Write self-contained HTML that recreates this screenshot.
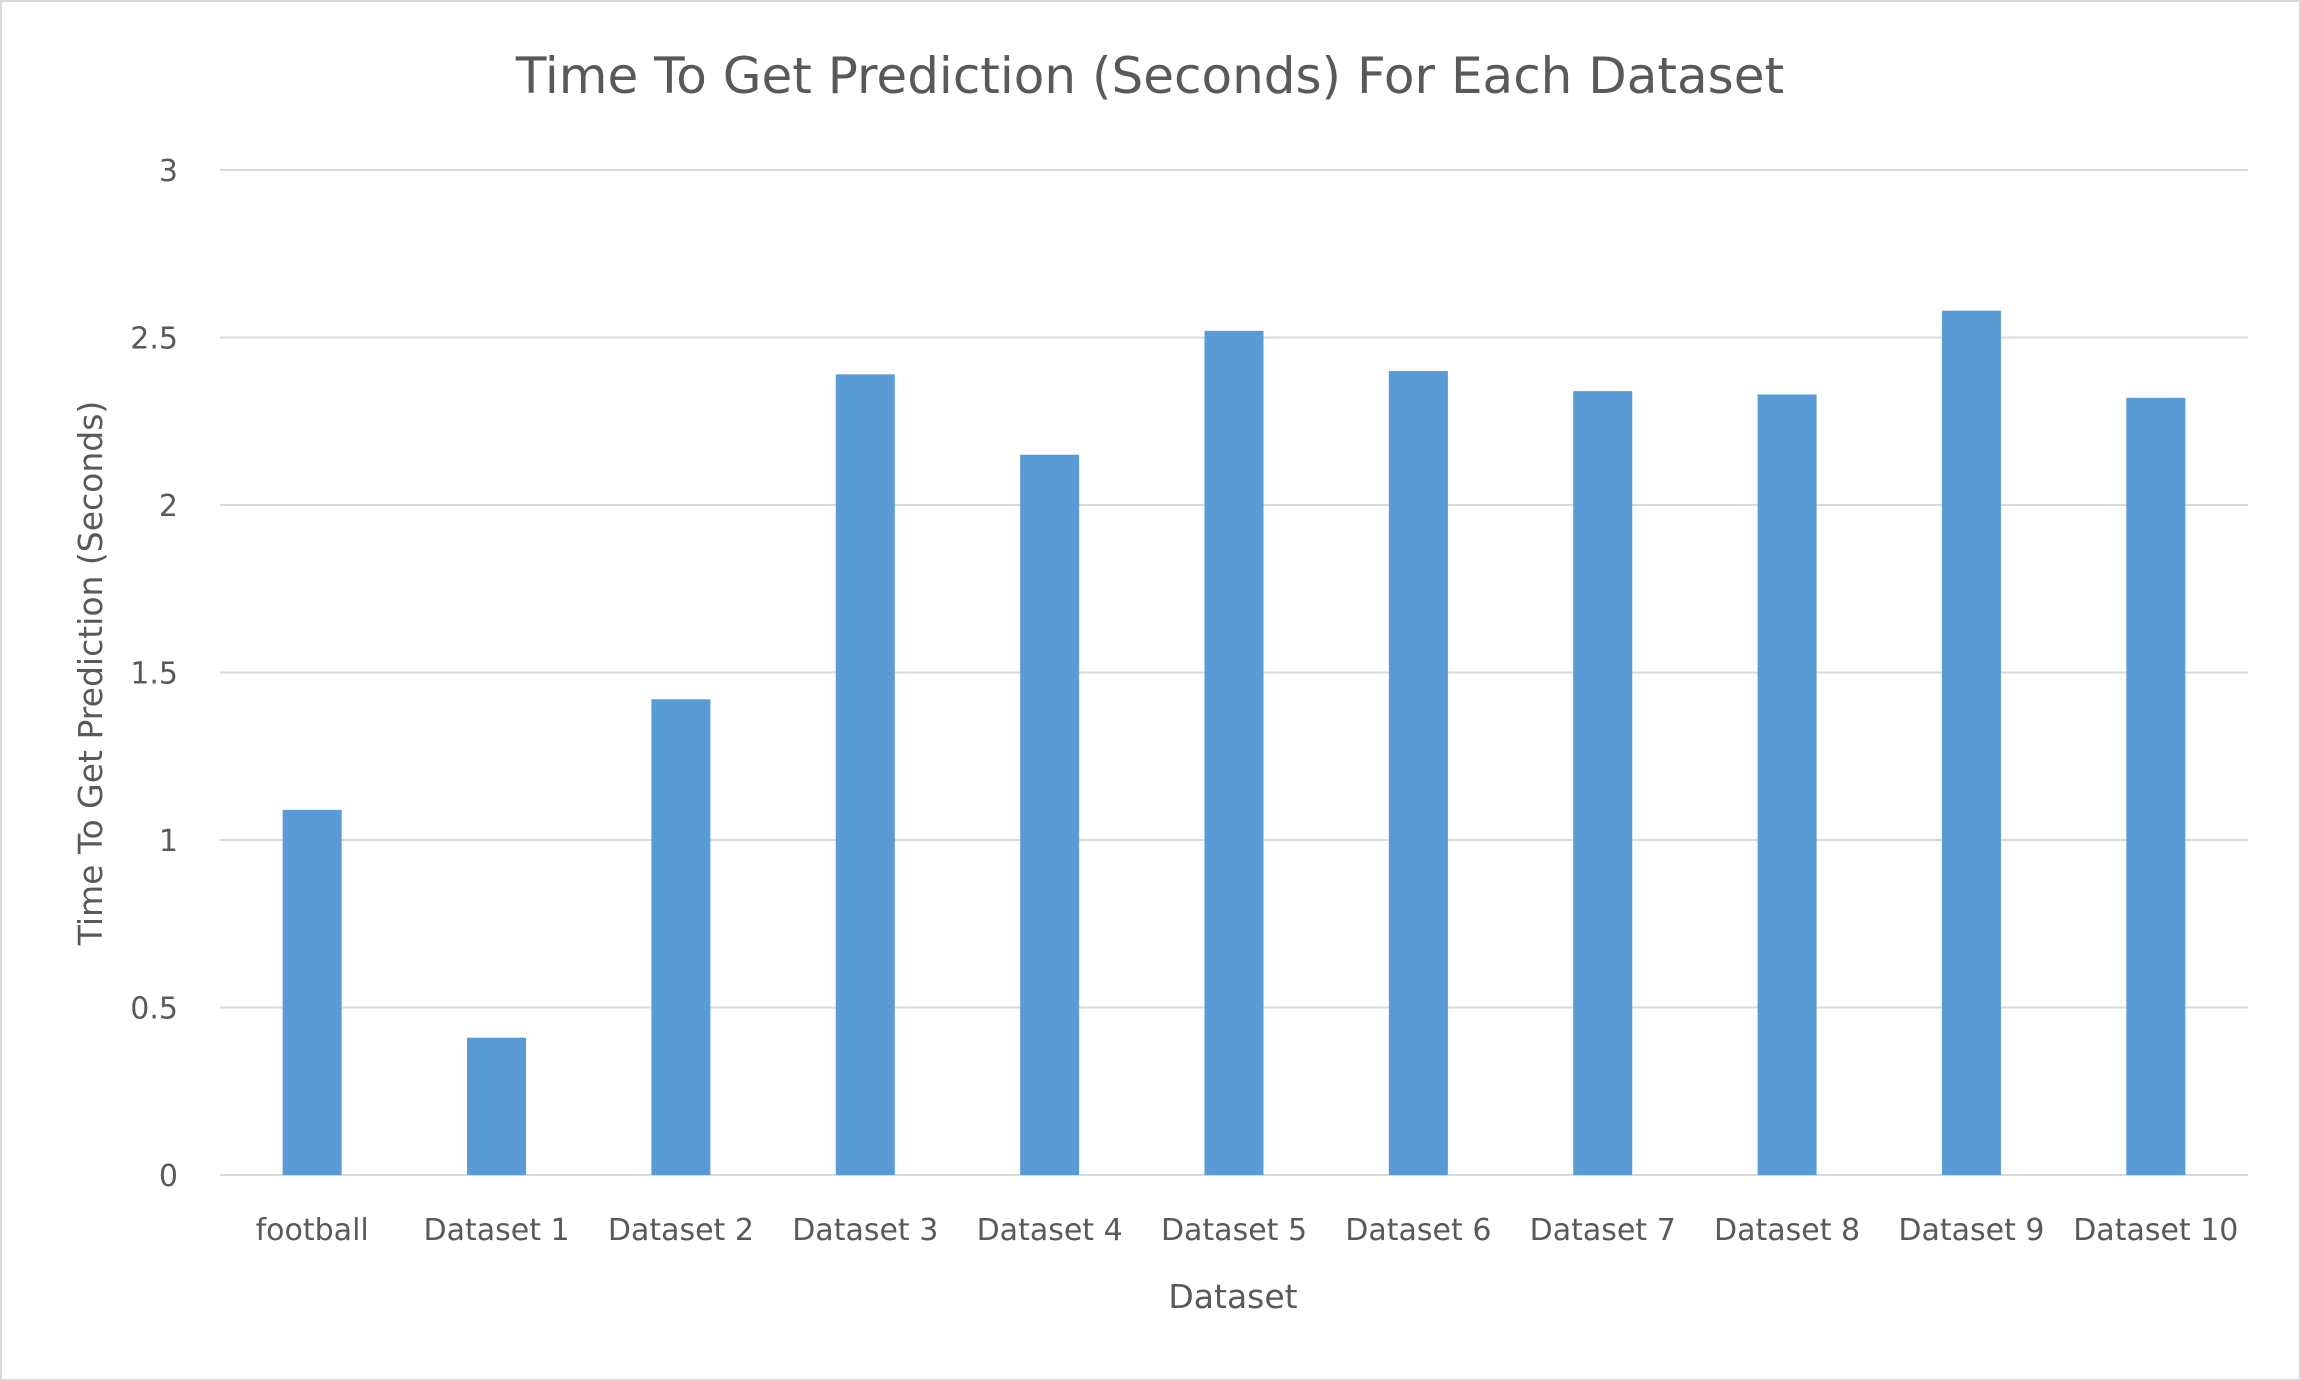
<!DOCTYPE html>
<html><head><meta charset="utf-8"><style>
html,body{margin:0;padding:0;background:#fff;}
svg{display:block;font-family:"DejaVu Sans","Liberation Sans",sans-serif;}
</style></head><body>
<svg id="chart" width="2301" height="1381" viewBox="0 0 2301 1381" xmlns="http://www.w3.org/2000/svg">
<rect x="1" y="1" width="2299" height="1379" fill="#fff" stroke="#d9d9d9" stroke-width="2"/>
<text x="1150" y="93" font-size="50" fill="#595959" text-anchor="middle">Time To Get Prediction (Seconds) For Each Dataset</text>
<text transform="translate(102,673) rotate(-90)" font-size="33" fill="#595959" text-anchor="middle">Time To Get Prediction (Seconds)</text>
<text x="1233" y="1308" font-size="33" fill="#595959" text-anchor="middle">Dataset</text>
<g id="grid"></g><g id="bars"></g><g id="labels"></g>
</svg>
<script>
const categories = ["football","Dataset 1","Dataset 2","Dataset 3","Dataset 4","Dataset 5","Dataset 6","Dataset 7","Dataset 8","Dataset 9","Dataset 10"];
const values = [1.09,0.41,1.42,2.39,2.15,2.52,2.40,2.34,2.33,2.58,2.32];
const yTicks = [0,0.5,1,1.5,2,2.5,3];
const yTickLabels = ["0","0.5","1","1.5","2","2.5","3"];
const NS="http://www.w3.org/2000/svg";
const x0=220,x1=2248,yTop=170,yBot=1175,yMax=3;
const y=v=>yBot-(v/yMax)*(yBot-yTop);
const band=(x1-x0)/categories.length;
const xc=i=>x0+band*(i+0.5);
const bw=59;
function mk(t,a,p){const e=document.createElementNS(NS,t);for(const k in a)e.setAttribute(k,a[k]);p.appendChild(e);return e;}
const grid=document.getElementById('grid'),bars=document.getElementById('bars'),labels=document.getElementById('labels');
yTicks.forEach((t,i)=>{
  const l=mk('line',{x1:x0,x2:x1,y1:y(t),y2:y(t),stroke:'#d9d9d9','stroke-width':2},grid);
  
  
  const tx=mk('text',{x:178,y:y(t)+11,'font-size':30,fill:'#595959','text-anchor':'end'},labels);
  tx.textContent=yTickLabels[i];
  
  
});
categories.forEach((c,i)=>{
  const r=mk('rect',{x:xc(i)-bw/2,y:y(values[i]),width:bw,height:yBot-y(values[i]),fill:'#5b9bd5'},bars);
  
  
  const tx=mk('text',{x:xc(i),y:1240,'font-size':30,fill:'#595959','text-anchor':'middle'},labels);
  tx.textContent=c;
  
  
});
</script>
</body></html>
